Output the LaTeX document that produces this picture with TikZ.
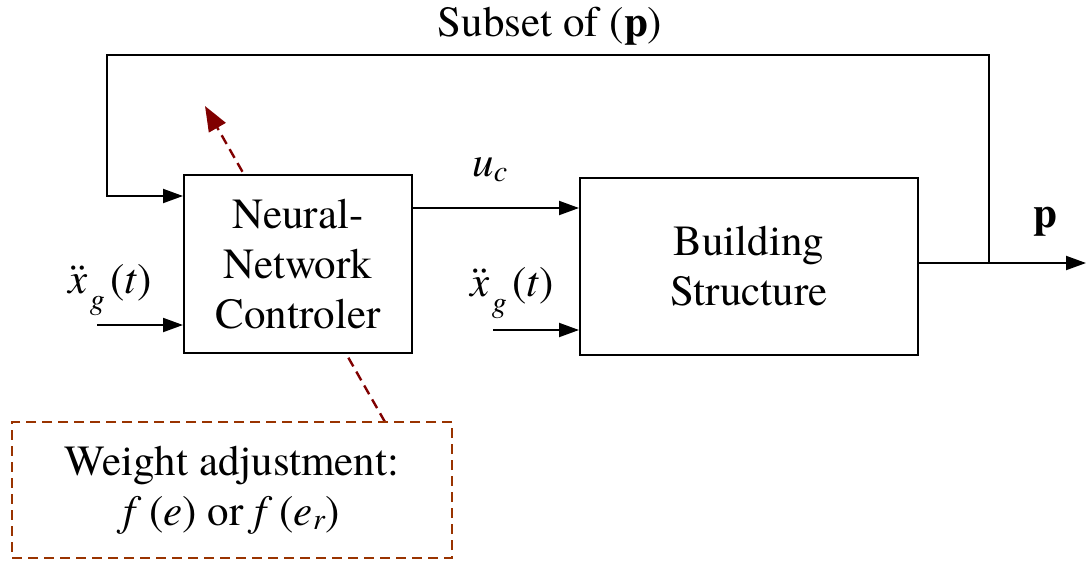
\documentclass[tikz,border=0pt]{standalone}
\usepackage{fontspec}
\setmainfont{texgyretermes}[
  Extension=.otf,
  UprightFont=*-regular,
  BoldFont=*-bold,
  ItalicFont=*-italic,
  BoldItalicFont=*-bolditalic]
\usetikzlibrary{arrows.meta}

% ground acceleration label: x double-dot, subscript g, argument t
\newcommand{\xddot}{\ooalign{\textit{x}\cr\hidewidth\kern0.12em\"{}\hidewidth\cr}}
\newcommand{\xddgt}{\xddot\kern0.05em\raisebox{-0.36em}{\fontsize{30}{30}\selectfont\textit{g}}\kern0.12em(\textit{t})}

\definecolor{linkred}{HTML}{800000}
\definecolor{boxbrown}{HTML}{993300}

\tikzset{
  blockbox/.style={draw, line width=2pt, fill=white, align=center, inner sep=0pt},
  sig/.style={line width=2pt, -{Triangle[length=20pt,width=14pt]}},
  adapt/.style={draw=linkred, line width=2.4pt, dash pattern=on 10pt off 6pt,
    -{Triangle[length=25pt,width=19pt]}},
  weightbox/.style={draw=boxbrown, line width=2pt, dash pattern=on 10pt off 6pt,
    align=center, inner sep=0pt},
  lbl/.style={inner sep=0pt}
}

\begin{document}
\begin{tikzpicture}[x=1pt, y=-1pt, font=\fontsize{43}{50}\selectfont]
\useasboundingbox (0,0) rectangle (1086,563);

% weight adjustment acting on the controller
\coordinate (wtop) at (385,422);
\coordinate (wtip) at (205,106);
\draw[adapt] (wtop) -- (wtip);

% blocks
\node[blockbox, minimum width=228pt, minimum height=178pt] (nn) at (298,264)
  {Neural-\\Network\\Controler};
\node[blockbox, minimum width=338pt, minimum height=177pt] (bs) at (749,266.5)
  {Building\\Structure};
\node[weightbox, minimum width=440pt, minimum height=136pt] (wb) at (232,490)
  {Weight adjustment:\\\textit{f}\,(\textit{e}) or \textit{f}\,(\textit{e}\textsubscript{\textit{r}})};

% signal lines
\coordinate (in1) at (97,325);
\coordinate (in2) at (493,330);
\coordinate (tap) at (989,263);
\coordinate (out) at (1086,263);

\draw[sig] (nn.east |- 0,208) -- (bs.west |- 0,208);
\draw[sig] (in1) -- (nn.west |- in1);
\draw[sig] (in2) -- (bs.west |- in2);
\draw[sig] (bs.east |- tap) -- (out);
\draw[sig] (tap) |- (107,55) |- (nn.west |- 0,196);

% labels
\node[lbl] (tsub) at (550,26) {Subset of (\textbf{p})};
\node[lbl] (tuc) at (490,170) {\textit{u}\textsubscript{\textit{c}}};
\node[lbl] (tp) at (1045,222) {\textbf{p}};
\node[lbl] (tx1) at (110,290) {\xddgt};
\node[lbl] (tx2) at (512,293) {\xddgt};
\end{tikzpicture}
\end{document}
